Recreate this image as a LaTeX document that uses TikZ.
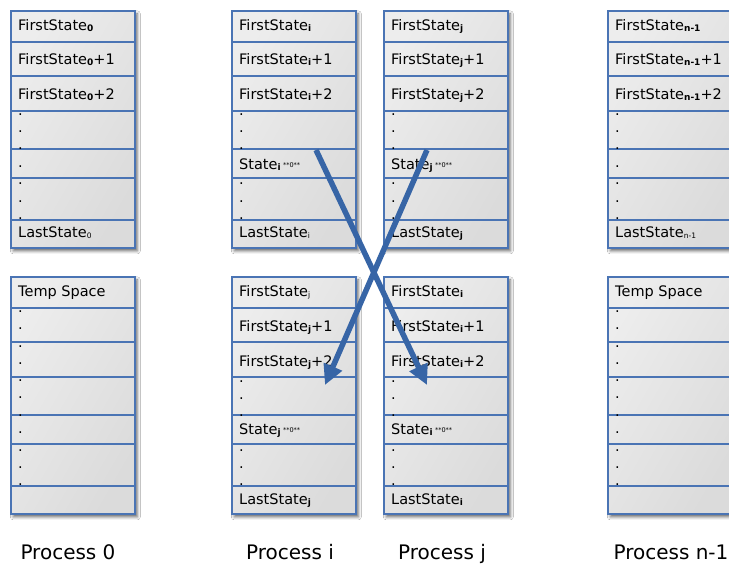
\documentclass[tikz,border=0pt]{standalone}
\usepackage{fontspec}
\setmainfont{DejaVu Sans}
\usetikzlibrary{arrows.meta,shadows.blur}

\definecolor{boxblue}{HTML}{4A74B4}
\definecolor{arrowblue}{HTML}{3765A6}
\definecolor{fillhi}{HTML}{EDEDED}
\definecolor{filllo}{HTML}{DBDBDB}

% subscripts: bold and plain, plus the small "**0**" marker
\newcommand\bsub[1]{\raisebox{-0.25ex}{\fontsize{9}{8}\selectfont\bfseries #1}}
\newcommand\psub[1]{\raisebox{-0.25ex}{\fontsize{7.5}{8}\selectfont #1}}
\newcommand\zmark{\,\raisebox{0.15ex}{\fontsize{6.5}{6}\selectfont **0**}}

\tikzset{
  membox/.style={draw=boxblue, line width=1.7pt, anchor=north west,
    minimum width=124pt, minimum height=237pt, inner sep=0pt,
    left color=fillhi, right color=filllo, shading angle=60,
    blur shadow={shadow xshift=2.5pt, shadow yshift=-3pt,
      shadow blur radius=3pt, shadow opacity=60}},
  rowline/.style={draw=boxblue, line width=1.6pt},
  cell/.style={anchor=base west, inner sep=0pt,
    font=\fontsize{14.5}{17}\selectfont},
  dotmark/.style={anchor=base west, inner sep=0pt,
    font=\fontsize{14.5}{17}\selectfont},
  proclabel/.style={anchor=base, inner sep=0pt,
    font=\fontsize{20}{24}\selectfont},
  swaparrow/.style={draw=arrowblue, line width=5.5pt,
    -{Triangle[length=20pt,width=19pt]}}
}

\begin{document}
\begin{tikzpicture}[x=1pt,y=-1pt]
\clip (0,0) rectangle (729,563);
\fill[white] (0,0) rectangle (729,563);

% ---------- top row of state tables ----------
\node[membox] (t0) at (10,10) {};
\node[membox] (ti) at (231,10) {};
\node[membox] (tj) at (383,10) {};
\node[membox] (tn) at (607,10) {};

% ---------- bottom row of receive buffers ----------
\node[membox] (b0) at (10,276) {};
\node[membox] (bi) at (231,276) {};
\node[membox] (bj) at (383,276) {};
\node[membox] (bn) at (607,276) {};

% row separators
\foreach \b in {t0,ti,tj,tn,b0,bi,bj,bn}{
  \foreach \d in {32,66,101,139,168,210}{
    \draw[rowline] ([yshift=-\d pt]\b.north west) -- ([yshift=-\d pt]\b.north east);
  }
}

% ---------- process 0, state table ----------
\node[cell] (t0a) at (18,30) {FirstState\bsub{0}};
\node[cell] (t0b) at (18,64) {FirstState\bsub{0}+1};
\node[cell] (t0c) at (18,99) {FirstState\bsub{0}+2};
\node[cell] (t0z) at (18,237) {LastState\psub{0}};
\foreach \y [count=\k] in {115,132,149,167,184,202,219}
  \node[dotmark] (t0d\k) at (18,\y) {.};

% ---------- process i, state table ----------
\node[cell] (tia) at (239,30) {FirstState\bsub{i}};
\node[cell] (tib) at (239,64) {FirstState\bsub{i}+1};
\node[cell] (tic) at (239,99) {FirstState\bsub{i}+2};
\node[cell] (tis) at (239,169) {State\bsub{i}\zmark};
\node[cell] (tiz) at (239,237) {LastState\psub{i}};
\foreach \y [count=\k] in {115,132,149,184,202,219}
  \node[dotmark] (tid\k) at (239,\y) {.};

% ---------- process j, state table ----------
\node[cell] (tja) at (391,30) {FirstState\bsub{j}};
\node[cell] (tjb) at (391,64) {FirstState\bsub{j}+1};
\node[cell] (tjc) at (391,99) {FirstState\bsub{j}+2};
\node[cell] (tjs) at (391,169) {State\bsub{j}\zmark};
\node[cell] (tjz) at (391,237) {LastState\bsub{j}};
\foreach \y [count=\k] in {115,132,149,184,202,219}
  \node[dotmark] (tjd\k) at (391,\y) {.};

% ---------- process n-1, state table ----------
\node[cell] (tna) at (615,30) {FirstState\bsub{n-1}};
\node[cell] (tnb) at (615,64) {FirstState\bsub{n-1}+1};
\node[cell] (tnc) at (615,99) {FirstState\bsub{n-1}+2};
\node[cell] (tnz) at (615,237) {LastState\psub{n-1}};
\foreach \y [count=\k] in {115,132,149,167,184,202,219}
  \node[dotmark] (tnd\k) at (615,\y) {.};

% ---------- process 0, temp space ----------
\node[cell] (b0a) at (18,296) {Temp Space};
\foreach \y [count=\k] in {312,329,347,364,381,398,416,433,451,468,485}
  \node[dotmark] (b0d\k) at (18,\y) {.};

% ---------- process i, received states of j ----------
\node[cell] (bia) at (239,296) {FirstState\psub{j}};
\node[cell] (bib) at (239,331) {FirstState\bsub{j}+1};
\node[cell] (bic) at (239,366) {FirstState\bsub{j}+2};
\node[cell] (bis) at (239,434) {State\bsub{j}\zmark};
\node[cell] (biz) at (239,504) {LastState\bsub{j}};
\foreach \y [count=\k] in {382,399,416,451,468,485}
  \node[dotmark] (bid\k) at (239,\y) {.};

% ---------- process j, received states of i ----------
\node[cell] (bja) at (391,296) {FirstState\bsub{i}};
\node[cell] (bjb) at (391,331) {FirstState\bsub{i}+1};
\node[cell] (bjc) at (391,366) {FirstState\bsub{i}+2};
\node[cell] (bjs) at (391,434) {State\bsub{i}\zmark};
\node[cell] (bjz) at (391,504) {LastState\bsub{i}};
\foreach \y [count=\k] in {382,399,416,451,468,485}
  \node[dotmark] (bjd\k) at (391,\y) {.};

% ---------- process n-1, temp space ----------
\node[cell] (bna) at (615,296) {Temp Space};
\foreach \y [count=\k] in {312,329,347,364,381,398,416,433,451,468,485}
  \node[dotmark] (bnd\k) at (615,\y) {.};

% ---------- process labels ----------
\node[proclabel] (p0) at (68,559) {Process 0};
\node[proclabel] (pi) at (290,559) {Process i};
\node[proclabel] (pj) at (442,559) {Process j};
\node[proclabel] (pn) at (671,559) {Process n-1};

% ---------- exchange of states between i and j ----------
\coordinate (srci) at (316,150);
\coordinate (dsti) at (427,385);
\coordinate (srcj) at (427,150);
\coordinate (dstj) at (325,385);
\draw[swaparrow] (srci) -- (dsti);
\draw[swaparrow] (srcj) -- (dstj);
\end{tikzpicture}
\end{document}
